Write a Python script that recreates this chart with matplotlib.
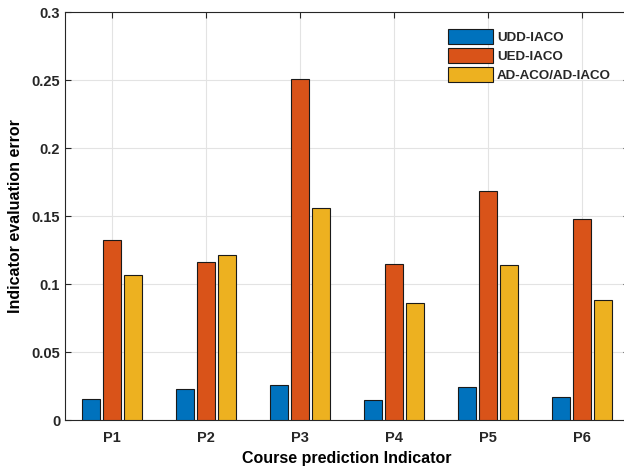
import numpy as np
import matplotlib
matplotlib.use('Agg')
import matplotlib.pyplot as plt

plt.rcParams['font.family'] = ['Liberation Sans', 'DejaVu Sans']
plt.rcParams['font.weight'] = 'bold'
plt.rcParams['text.color'] = '#262626'

# Data
categories = ['P1', 'P2', 'P3', 'P4', 'P5', 'P6']
udd_iaco = [0.0155, 0.0226, 0.0257, 0.0147, 0.0245, 0.0172]
ued_iaco = [0.132, 0.116, 0.251, 0.1145, 0.1686, 0.148]
ad_aco = [0.1066, 0.121, 0.1556, 0.0858, 0.1137, 0.0885]
series_names = ['UDD-IACO', 'UED-IACO', 'AD-ACO/AD-IACO']
colors = ['#0072BD', '#D95319', '#EDB120']

fig = plt.figure(figsize=(6.24, 4.69), dpi=100)
# right spine falls just outside the picture, as in the reference
ax = fig.add_axes([65 / 624, 49 / 469, 564 / 624, 408 / 469])

x = np.arange(1, len(categories) + 1)
w = 0.187
off = 0.224
for i, vals in enumerate([udd_iaco, ued_iaco, ad_aco]):
    ax.bar(x + (i - 1) * off, vals, width=w, color=colors[i],
           edgecolor='#1a1a1a', linewidth=0.8, label=series_names[i], zorder=3)

ax.set_xlim(0.5, 6.5)
ax.set_ylim(0, 0.3)
ax.set_xticks(x)
ax.set_xticklabels(categories)
ax.set_yticks([0, 0.05, 0.1, 0.15, 0.2, 0.25, 0.3])
ax.set_yticklabels(['0', '0.05', '0.1', '0.15', '0.2', '0.25', '0.3'])
ax.grid(True, color='#e3e3e3', linewidth=0.8, zorder=0)
ax.set_axisbelow(True)
ax.tick_params(direction='in', top=True, right=True, labelsize=10.5,
               color='#262626', labelcolor='#262626', length=4)
ax.tick_params(axis='x', pad=8)
for sp in ax.spines.values():
    sp.set_color('#262626')
    sp.set_linewidth(0.8)

ax.set_xlabel('Course prediction Indicator', fontsize=11.5, fontweight='bold', labelpad=4)
ax.set_ylabel('Indicator evaluation error', fontsize=11.5, fontweight='bold', labelpad=6)

leg = ax.legend(loc='upper left', bbox_to_anchor=(0.67, 0.971), frameon=False,
                fontsize=9.6, handlelength=3.35, handleheight=1.35,
                handletextpad=0.3, labelspacing=0.3, borderaxespad=0)

fig.savefig('out.png', dpi=100)
